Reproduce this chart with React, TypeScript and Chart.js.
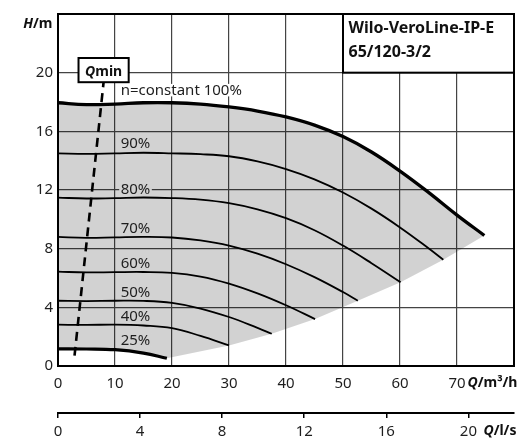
import React, { useEffect, useRef } from "react";
import { Chart, registerables } from "chart.js";

Chart.register(...registerables);

// ---------- data (Q in m³/h, H in m) ----------
const xTicksMax = 80; // m³/h axis end
const yTicksMax = 24; // m axis end
const lsPerM3h = 1 / 3.6;

const q100 = [0, 5, 10, 15, 20, 25, 30, 35, 40, 45, 50, 55, 60, 65, 70, 74.8];
const h100 = [17.95, 17.82, 17.86, 17.95, 17.95, 17.86, 17.66, 17.38, 16.98, 16.42, 15.64, 14.59, 13.29, 11.84, 10.29, 8.9];

const q90 = [0, 5, 10, 15, 20, 25, 30, 35, 40, 45, 50, 55, 60, 65, 67.6];
const h90 = [14.5, 14.46, 14.5, 14.54, 14.5, 14.44, 14.3, 13.95, 13.43, 12.73, 11.83, 10.73, 9.45, 8.03, 7.25];

const q80 = [0, 5, 10, 15, 20, 25, 30, 35, 40, 45, 50, 55, 60.1];
const h80 = [11.48, 11.42, 11.45, 11.49, 11.45, 11.34, 11.1, 10.68, 10.08, 9.26, 8.21, 7.01, 5.71];

const q70 = [0, 5, 10, 15, 20, 25, 30, 35, 40, 45, 50, 52.6];
const h70 = [8.8, 8.74, 8.77, 8.8, 8.76, 8.56, 8.21, 7.66, 6.94, 6.06, 5.04, 4.45];

const q60 = [0, 5, 10, 15, 20, 25, 30, 35, 40, 45.1];
const h60 = [6.43, 6.38, 6.4, 6.41, 6.35, 6.1, 5.62, 4.95, 4.14, 3.2];

const q50 = [0, 5, 10, 15, 20, 25, 30, 35, 37.5];
const h50 = [4.45, 4.43, 4.45, 4.44, 4.3, 3.92, 3.34, 2.6, 2.2];

const q40 = [0, 5, 10, 15, 20, 25, 30];
const h40 = [2.82, 2.8, 2.82, 2.76, 2.58, 2.05, 1.4];

const q25 = [0, 5, 10, 15, 19.1];
const h25 = [1.17, 1.16, 1.11, 0.88, 0.53];

// lower limit of the operating field (ends of the speed curves)
const qLimit = [19.1, 30, 37.5, 45.1, 52.6, 60.1, 67.6, 74.8];
const hLimit = [0.53, 1.4, 2.2, 3.2, 4.45, 5.71, 7.25, 8.9];

// Qmin line
const qQmin = [2.9, 8.0];
const hQmin = [0.7, 19.35];

const curveNames = ["n=constant 100%", "90%", "80%", "70%", "60%", "50%", "40%", "25%"];
const curveLabelHead = [18.45, 14.83, 11.7, 9.08, 6.71, 4.73, 3.06, 1.42];
const curveLabelQ = 11;

const titleLines = ["Wilo-VeroLine-IP-E", "65/120-3/2"];

// ---------- helpers ----------
const pts = (q: number[], h: number[]) => q.map((x, i) => ({ x, y: h[i] }));
const FONT = '"Noto Sans", "Open Sans", sans-serif';
const TXT = "#1e1e1e";

type Part = { t: string; italic?: boolean };
function richWidth(ctx: CanvasRenderingContext2D, parts: Part[], size: number) {
  let w = 0;
  for (const p of parts) {
    ctx.font = `${p.italic ? "italic " : ""}bold ${size}px ${FONT}`;
    w += ctx.measureText(p.t).width;
  }
  return w;
}
function drawRich(ctx: CanvasRenderingContext2D, parts: Part[], x: number, y: number, size: number, align: "left" | "right" | "center") {
  const w = richWidth(ctx, parts, size);
  let cx = align === "left" ? x : align === "right" ? x - w : x - w / 2;
  ctx.textAlign = "left";
  ctx.textBaseline = "alphabetic";
  for (const p of parts) {
    ctx.font = `${p.italic ? "italic " : ""}bold ${size}px ${FONT}`;
    ctx.fillText(p.t, cx, y);
    cx += ctx.measureText(p.t).width;
  }
}

const overlay = {
  id: "overlay",
  afterDraw(chart: any) {
    const { ctx, chartArea: a } = chart;
    const x = chart.scales.x;
    const y = chart.scales.y;
    const x2 = chart.scales.x2;
    ctx.save();

    // curve labels
    ctx.font = `15px ${FONT}`;
    ctx.textAlign = "left";
    ctx.textBaseline = "alphabetic";
    curveNames.forEach((name, i) => {
      const px = x.getPixelForValue(curveLabelQ);
      const py = y.getPixelForValue(curveLabelHead[i]);
      const w = ctx.measureText(name).width;
      ctx.fillStyle = i === 0 ? "#ffffff" : "#d2d2d2";
      ctx.fillRect(px - 1.5, py - 11.5, w + 3, 12.5);
      ctx.fillStyle = TXT;
      ctx.fillText(name, px, py);
    });

    // frame
    ctx.strokeStyle = "#000";
    ctx.lineWidth = 2;
    ctx.strokeRect(a.left, a.top, a.right - a.left, a.bottom - a.top);

    // title box
    const tl = x.getPixelForValue(50);
    const tb = y.getPixelForValue(20);
    ctx.fillStyle = "#fff";
    ctx.fillRect(tl, a.top, a.right - tl, tb - a.top);
    ctx.strokeRect(tl, a.top, a.right - tl, tb - a.top);
    ctx.fillStyle = "#111";
    ctx.font = `bold 16px ${FONT}`;
    ctx.fillText(titleLines[0], tl + 5.5, a.top + 19);
    ctx.fillText(titleLines[1], tl + 5.5, a.top + 42.5);

    // Qmin box
    const bl = x.getPixelForValue(3.6);
    const br = x.getPixelForValue(12.4);
    const bt = y.getPixelForValue(21.0);
    const bb = y.getPixelForValue(19.35);
    ctx.fillStyle = "#fff";
    ctx.fillRect(bl, bt, br - bl, bb - bt);
    ctx.strokeRect(bl, bt, br - bl, bb - bt);
    ctx.fillStyle = "#111";
    drawRich(ctx, [{ t: "Q", italic: true }, { t: "min" }], (bl + br) / 2, bt + 17.5, 14, "center");

    // axis titles
    drawRich(ctx, [{ t: "H", italic: true }, { t: "/m" }], a.left - 5.5, y.getPixelForValue(yTicksMax) + 14, 14, "right");
    drawRich(ctx, [{ t: "Q", italic: true }, { t: "/m³/h" }], x.getPixelForValue(70) + 10.5, a.bottom + 21, 14, "left");
    drawRich(ctx, [{ t: "Q", italic: true }, { t: "/l/s" }], x2.getPixelForValue(20) + 15, x2.top + 21.5, 14, "left");

    ctx.restore();
  },
};

export default function App() {
  const ref = useRef<HTMLCanvasElement>(null);
  useEffect(() => {
    if (!ref.current) return;
    const line = (q: number[], h: number[], w: number) => ({
      data: pts(q, h),
      showLine: true,
      borderColor: "#000",
      borderWidth: w,
      pointRadius: 0,
      fill: false,
      tension: 0.4,
      borderCapStyle: "butt",
      order: 1,
    });
    const fieldPoly = [...pts(q100, h100), ...pts(qLimit, hLimit).reverse(), ...pts(q25, h25).reverse()];
    const tickFont = { family: FONT, size: 15 };
    const chart = new Chart(ref.current, {
      type: "scatter",
      data: {
        datasets: [
          line(q100, h100, 3.3),
          line(q90, h90, 1.8),
          line(q80, h80, 1.8),
          line(q70, h70, 1.8),
          line(q60, h60, 1.8),
          line(q50, h50, 1.8),
          line(q40, h40, 1.8),
          line(q25, h25, 3.2),
          {
            data: pts(qQmin, hQmin),
            showLine: true,
            borderColor: "#000",
            borderWidth: 2.6,
            borderDash: [9, 6],
            pointRadius: 0,
            fill: false,
            order: 0,
          } as any,
          {
            data: fieldPoly,
            showLine: true,
            borderWidth: 0,
            borderColor: "rgba(0,0,0,0)",
            backgroundColor: "rgba(0,0,0,0.175)",
            pointRadius: 0,
            tension: 0,
            fill: "shape",
            order: 10,
          } as any,
        ],
      },
      options: {
        animation: false,
        responsive: false,
        devicePixelRatio: 1,
        events: [],
        layout: { padding: { top: 11, right: 5, left: 0, bottom: 0 } },
        plugins: { legend: { display: false }, tooltip: { enabled: false } },
        scales: {
          x: {
            type: "linear",
            position: "bottom",
            min: 0,
            max: xTicksMax,
            weight: 0,
            ticks: {
              stepSize: 10,
              includeBounds: false,
              autoSkip: false,
              maxRotation: 0,
              padding: 9,
              font: tickFont,
              color: TXT,
              callback: (v: any) => (v >= xTicksMax ? null : String(v)),
            },
            grid: { color: "#444", lineWidth: 1.2, drawTicks: false },
            border: { display: true, color: "#000", width: 2 },
            afterFit: (s: any) => {
              s.height = 47;
            },
          },
          x2: {
            type: "linear",
            position: "bottom",
            min: 0,
            max: xTicksMax * lsPerM3h,
            weight: 1,
            ticks: {
              stepSize: 4,
              includeBounds: false,
              autoSkip: false,
              maxRotation: 0,
              padding: 5,
              font: tickFont,
              color: TXT,
            },
            grid: { drawOnChartArea: false, drawTicks: true, tickLength: 5, color: "#000", lineWidth: 1.5 },
            border: { display: true, color: "#000", width: 2 },
            afterFit: (s: any) => {
              s.height = 28;
            },
          },
          y: {
            type: "linear",
            min: 0,
            max: yTicksMax,
            ticks: {
              stepSize: 4,
              includeBounds: false,
              padding: 5,
              font: tickFont,
              color: TXT,
              callback: (v: any) => (v >= yTicksMax ? null : String(v)),
            },
            grid: { color: "#444", lineWidth: 1.2, drawTicks: false },
            border: { display: true, color: "#000", width: 2 },
            afterFit: (s: any) => {
              s.width = 58;
            },
          },
        },
      } as any,
      plugins: [overlay],
    });
    return () => chart.destroy();
  }, []);
  return (
    <div style={{ position: "fixed", left: 0, top: 0, width: 519, height: 441, background: "#fff" }}>
      <canvas ref={ref} width={519} height={441} style={{ display: "block" }} />
    </div>
  );
}
